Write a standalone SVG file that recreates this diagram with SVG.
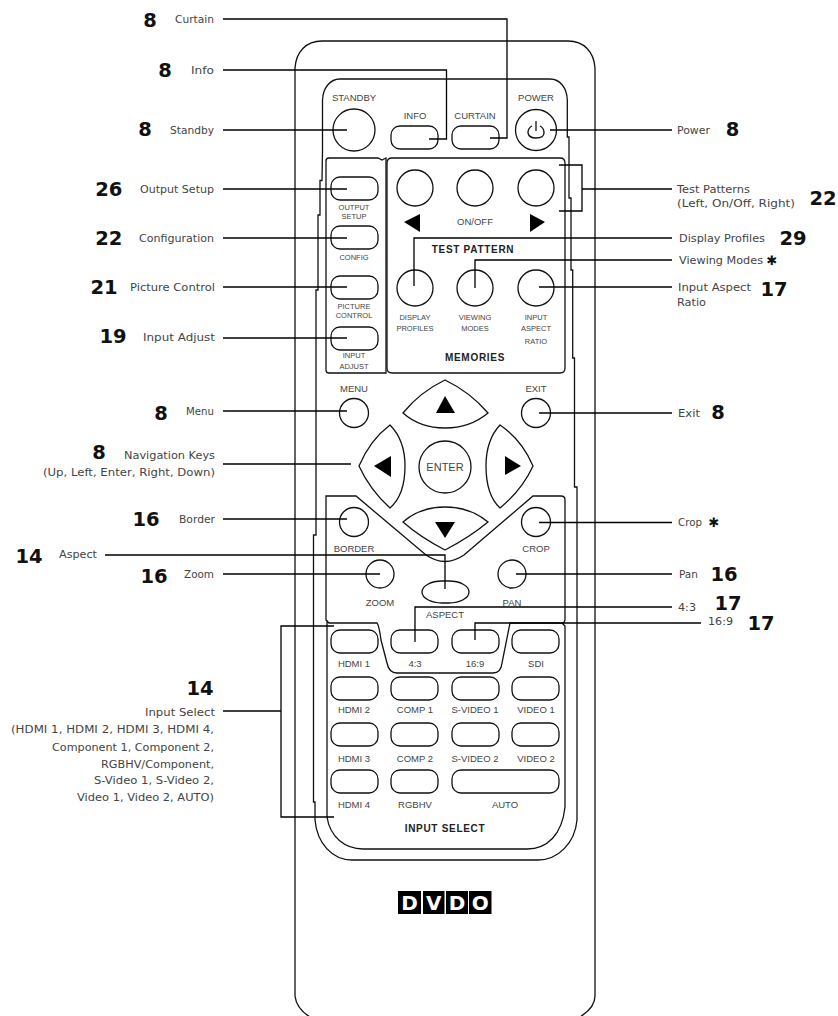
<svg xmlns="http://www.w3.org/2000/svg" width="838" height="1016" viewBox="0 0 838 1016">
<style>
.o{fill:none;stroke:#111;stroke-width:1.3}
.c{fill:none;stroke:#000;stroke-width:1.3}
.f{fill:#000;stroke:none}
.l{font-family:"DejaVu Sans",sans-serif;font-size:10.5px;fill:#444}
.e{text-anchor:end}
.n{font-family:"DejaVu Sans",sans-serif;font-weight:bold;font-size:19.5px;fill:#111;text-anchor:middle}
.k{font-family:"Liberation Sans",sans-serif;font-size:9.5px;fill:#444;text-anchor:middle}
.s{font-family:"Liberation Sans",sans-serif;font-size:7.5px;fill:#444;text-anchor:middle}
.b{font-family:"Liberation Sans",sans-serif;font-size:10px;font-weight:bold;fill:#222;text-anchor:middle;letter-spacing:.7px}
.d{font-family:"DejaVu Sans",sans-serif;font-weight:bold;font-size:20px;fill:#fff;text-anchor:middle}
</style>
<defs>
<rect id="pill" width="47" height="23" rx="9" class="o"/>
</defs>
<g id="remote-body">
<path class="o" d="M295,68C296,52 306,41 322,41H568C584,41 594,52 595,68V996C595,1005 588,1012 580,1017M295,996C296,1005 302,1012 310,1017M295,68V996"/>
<path class="o" d="M340,79C330,79 323,88 322.500,100V150L322,180.500H320V215H318V290H316V535H313.500V802H315V820C317,843 332,860 352,860H538C558,860 575,843 577,820V487H574.500V358H572.700V270H571V198H569V137H567.300V100C567,88 560,79 550,79Z"/>
<path class="o" d="M327,817C330,837 345,849 363,849H527C547,849 562,835 565,807V626L563,624L565,620V500Q565,496 561,496H533L464,555Q445,568 426,555L356,496H326V620L329,623H377Q379,625 381,640L387,663Q389,673 397,673H493Q501,673 502,663L510,623H563M327,620V817"/>
<path class="o" d="M329,158H378L382,160L386,158V373H329Q326,373 326,370V161Q326,158 329,158Z"/>
<path class="o" d="M392,158H560Q565,158 565,163V368Q565,373 560,373H392Q387,373 387,368V163Q387,158 392,158Z"/>
</g>
<g id="btn-standby"><circle class="o" cx="354" cy="130" r="21"/><text class="k" x="354" y="101">STANDBY</text></g>
<g id="btn-info"><use href="#pill" x="391" y="126"/><text class="k" x="415" y="119">INFO</text></g>
<g id="btn-curtain"><use href="#pill" x="452" y="126"/><text class="k" x="475" y="119">CURTAIN</text></g>
<g id="btn-power"><circle class="o" cx="536" cy="130" r="20.500"/><path class="o" d="M532,126Q528,128 528,133Q529,138 536,138Q544,138 544,133Q544,128 540,126M536,121V131"/><text class="k" x="536" y="101">POWER</text></g>
<g id="btn-output-setup"><use href="#pill" x="331" y="177"/><text class="s" x="354" y="210">OUTPUT</text><text class="s" x="354" y="219">SETUP</text></g>
<g id="btn-config"><use href="#pill" x="331" y="226"/><text class="s" x="354" y="260">CONFIG</text></g>
<g id="btn-picture-control"><use href="#pill" x="331" y="276"/><text class="s" x="354" y="309">PICTURE</text><text class="s" x="354" y="318">CONTROL</text></g>
<g id="btn-input-adjust"><use href="#pill" x="331" y="327"/><text class="s" x="354" y="358">INPUT</text><text class="s" x="354" y="369">ADJUST</text></g>
<g id="btn-test-left"><circle class="o" cx="415" cy="188" r="18"/><path class="f" d="M404,222L420,214V232Z"/></g>
<g id="btn-test-onoff"><circle class="o" cx="475" cy="188" r="18"/><text class="k" x="475" y="225">ON/OFF</text></g>
<g id="btn-test-right"><circle class="o" cx="536" cy="188" r="18"/><path class="f" d="M530,214L545,222L530,232Z"/></g>
<text class="b" x="473" y="253">TEST PATTERN</text>
<g id="btn-display-profiles"><circle class="o" cx="415" cy="288" r="18"/><text class="s" x="415" y="320">DISPLAY</text><text class="s" x="415" y="331">PROFILES</text></g>
<g id="btn-viewing-modes"><circle class="o" cx="475" cy="288" r="18"/><text class="s" x="475" y="320">VIEWING</text><text class="s" x="475" y="331">MODES</text></g>
<g id="btn-input-aspect"><circle class="o" cx="536" cy="288" r="18"/><text class="s" x="536" y="320">INPUT</text><text class="s" x="536" y="331">ASPECT</text><text class="s" x="536" y="344">RATIO</text></g>
<text class="b" x="475" y="361">MEMORIES</text>
<g id="btn-menu"><circle class="o" cx="354" cy="413" r="14.500"/><text class="k" x="354" y="392">MENU</text></g>
<g id="btn-exit"><circle class="o" cx="536" cy="413" r="14.500"/><text class="k" x="536" y="392">EXIT</text></g>
<g id="btn-up"><path class="o" d="M403,413Q420,392 445,380Q470,392 488,413Q470,428 445,428Q420,428 403,413Z"/><path class="f" d="M436,413H455L445,396Z"/></g>
<g id="btn-left"><path class="o" d="M390,425Q405,440 405,466Q405,495 390,508Q370,490 359,466Q370,440 390,425Z"/><path class="f" d="M374,466L391,456V477Z"/></g>
<g id="btn-right"><path class="o" d="M500,425Q486,440 486,466Q486,495 500,508Q522,490 533,466Q522,440 500,425Z"/><path class="f" d="M505,456L521,466L505,475Z"/></g>
<g id="btn-enter"><circle class="o" cx="445" cy="467" r="26"/><text class="k" x="445" y="471" style="font-size:11px">ENTER</text></g>
<g id="btn-down"><path class="o" d="M403,522Q420,507 445,507Q470,507 488,522Q470,537 445,550Q420,537 403,522Z"/><path class="f" d="M435,522H455L445,538Z"/></g>
<g id="btn-border"><circle class="o" cx="354" cy="522" r="14.500"/><text class="k" x="354" y="552">BORDER</text></g>
<g id="btn-crop"><circle class="o" cx="536" cy="522" r="14.500"/><text class="k" x="536" y="552">CROP</text></g>
<g id="btn-zoom"><circle class="o" cx="380" cy="574" r="14"/><text class="k" x="380" y="606">ZOOM</text></g>
<g id="btn-pan"><circle class="o" cx="512" cy="574" r="14"/><text class="k" x="512" y="606">PAN</text></g>
<g id="btn-aspect"><rect class="o" x="422" y="581" width="47" height="22" rx="20" ry="11"/><text class="k" x="445" y="618">ASPECT</text></g>
<g id="input-hdmi1"><use href="#pill" x="331" y="630"/><text class="k" x="354" y="667">HDMI 1</text></g>
<g id="input-43"><use href="#pill" x="391" y="630"/><text class="k" x="415" y="667">4:3</text></g>
<g id="input-169"><use href="#pill" x="452" y="630"/><text class="k" x="475" y="667">16:9</text></g>
<g id="input-sdi"><use href="#pill" x="512" y="630"/><text class="k" x="536" y="667">SDI</text></g>
<g id="input-hdmi2"><use href="#pill" x="331" y="677"/><text class="k" x="354" y="713">HDMI 2</text></g>
<g id="input-comp1"><use href="#pill" x="391" y="677"/><text class="k" x="415" y="713">COMP 1</text></g>
<g id="input-svideo1"><use href="#pill" x="452" y="677"/><text class="k" x="475" y="713">S-VIDEO 1</text></g>
<g id="input-video1"><use href="#pill" x="512" y="677"/><text class="k" x="536" y="713">VIDEO 1</text></g>
<g id="input-hdmi3"><use href="#pill" x="331" y="723"/><text class="k" x="354" y="762">HDMI 3</text></g>
<g id="input-comp2"><use href="#pill" x="391" y="723"/><text class="k" x="415" y="762">COMP 2</text></g>
<g id="input-svideo2"><use href="#pill" x="452" y="723"/><text class="k" x="475" y="762">S-VIDEO 2</text></g>
<g id="input-video2"><use href="#pill" x="512" y="723"/><text class="k" x="536" y="762">VIDEO 2</text></g>
<g id="input-hdmi4"><use href="#pill" x="331" y="770"/><text class="k" x="354" y="808">HDMI 4</text></g>
<g id="input-rgbhv"><use href="#pill" x="391" y="770"/><text class="k" x="415" y="808">RGBHV</text></g>
<g id="input-auto"><rect class="o" x="452" y="770" width="107" height="23" rx="9"/><text class="k" x="505" y="808">AUTO</text></g>
<text class="b" x="445" y="832">INPUT SELECT</text>
<g id="logo">
<rect class="f" x="398" y="891" width="23" height="23"/><rect class="f" x="423" y="891" width="21.500" height="23"/><rect class="f" x="446" y="891" width="22" height="23"/><rect class="f" x="469" y="891" width="22.500" height="23"/>
<text class="d" x="409.500" y="910">D</text><text class="d" x="433.700" y="910">V</text><text class="d" x="457" y="910">D</text><text class="d" x="480.200" y="910">O</text>
</g>
<g id="connectors">
<path class="c" d="M223,19H507V138H490"/>
<path class="c" d="M223,70H446.500V139H429"/>
<path class="c" d="M223,130H347"/>
<path class="c" d="M223,189H347"/>
<path class="c" d="M223,238H347"/>
<path class="c" d="M223,287H347"/>
<path class="c" d="M223,338H347"/>
<path class="c" d="M223,411H347"/>
<path class="c" d="M223,464H351"/>
<path class="c" d="M223,519H347"/>
<path class="c" d="M105,555H445V589"/>
<path class="c" d="M223,574H380"/>
<path class="c" d="M334,626H281V817H334M223,711H281"/>
<path class="c" d="M550,130H672"/>
<path class="c" d="M559,165H582V211H559M582,189H672"/>
<path class="c" d="M672,238H414V286"/>
<path class="c" d="M672,260H475V288"/>
<path class="c" d="M672,287H539"/>
<path class="c" d="M539,413H672"/>
<path class="c" d="M539,522.500H672"/>
<path class="c" d="M516,574H672"/>
<path class="c" d="M672,607H415V642"/>
<path class="c" d="M701,623H475V640"/>
</g>
<g id="labels-left" lengthAdjust="spacingAndGlyphs">
<text class="l e" x="214" y="23" textLength="39" lengthAdjust="spacingAndGlyphs">Curtain</text><text class="n" x="150" y="27">8</text>
<text class="l e" x="214" y="74" textLength="23" lengthAdjust="spacingAndGlyphs">Info</text><text class="n" x="165" y="76.500">8</text>
<text class="l e" x="214" y="134" textLength="44" lengthAdjust="spacingAndGlyphs">Standby</text><text class="n" x="145" y="135.500">8</text>
<text class="l e" x="214" y="193" textLength="74" lengthAdjust="spacingAndGlyphs">Output Setup</text><text class="n" x="108.700" y="195.500">26</text>
<text class="l e" x="214" y="242" textLength="75" lengthAdjust="spacingAndGlyphs">Configuration</text><text class="n" x="108.700" y="245">22</text>
<text class="l e" x="215" y="291" textLength="85" lengthAdjust="spacingAndGlyphs">Picture Control</text><text class="n" x="104" y="293.500">21</text>
<text class="l e" x="215" y="341" textLength="72" lengthAdjust="spacingAndGlyphs">Input Adjust</text><text class="n" x="113" y="343">19</text>
<text class="l e" x="214" y="415" textLength="28" lengthAdjust="spacingAndGlyphs">Menu</text><text class="n" x="161" y="419.500">8</text>
<text class="l e" x="215" y="459" textLength="91" lengthAdjust="spacingAndGlyphs">Navigation Keys</text><text class="l e" x="215" y="476" textLength="172" lengthAdjust="spacingAndGlyphs">(Up, Left, Enter, Right, Down)</text><text class="n" x="99" y="458.500">8</text>
<text class="l e" x="215" y="523" textLength="36" lengthAdjust="spacingAndGlyphs">Border</text><text class="n" x="146" y="525.500">16</text>
<text class="l e" x="97" y="558" textLength="38" lengthAdjust="spacingAndGlyphs">Aspect</text><text class="n" x="29" y="562.500">14</text>
<text class="l e" x="214" y="578" textLength="30" lengthAdjust="spacingAndGlyphs">Zoom</text><text class="n" x="154" y="582.500">16</text>
<text class="n" x="200" y="694.500">14</text>
<text class="l e" x="215" y="716" textLength="70" lengthAdjust="spacingAndGlyphs">Input Select</text>
<text class="l e" x="214" y="733" textLength="203" lengthAdjust="spacingAndGlyphs">(HDMI 1, HDMI 2, HDMI 3, HDMI 4,</text>
<text class="l e" x="214" y="751" textLength="162" lengthAdjust="spacingAndGlyphs">Component 1, Component 2,</text>
<text class="l e" x="214" y="768" textLength="113" lengthAdjust="spacingAndGlyphs">RGBHV/Component,</text>
<text class="l e" x="214" y="784" textLength="120" lengthAdjust="spacingAndGlyphs">S-Video 1, S-Video 2,</text>
<text class="l e" x="214" y="801" textLength="137" lengthAdjust="spacingAndGlyphs">Video 1, Video 2, AUTO)</text>
</g>
<g id="labels-right">
<text class="l" x="677" y="134" textLength="33" lengthAdjust="spacingAndGlyphs">Power</text><text class="n" x="732.500" y="135.500">8</text>
<text class="l" x="677" y="193" textLength="73" lengthAdjust="spacingAndGlyphs">Test Patterns</text><text class="l" x="677" y="207" textLength="118" lengthAdjust="spacingAndGlyphs">(Left, On/Off, Right)</text><text class="n" x="823" y="204.500">22</text>
<text class="l" x="679" y="242" textLength="86" lengthAdjust="spacingAndGlyphs">Display Profiles</text><text class="n" x="793" y="244.500">29</text>
<text class="l" x="679" y="264" textLength="84" lengthAdjust="spacingAndGlyphs">Viewing Modes</text><text class="n" x="772" y="265" style="font-size:13px">✱</text>
<text class="l" x="678" y="291" textLength="73" lengthAdjust="spacingAndGlyphs">Input Aspect</text><text class="l" x="677" y="306" textLength="29" lengthAdjust="spacingAndGlyphs">Ratio</text><text class="n" x="774" y="295.500">17</text>
<text class="l" x="678" y="417" textLength="22" lengthAdjust="spacingAndGlyphs">Exit</text><text class="n" x="718" y="418.500">8</text>
<text class="l" x="678" y="526" textLength="24" lengthAdjust="spacingAndGlyphs">Crop</text><text class="n" x="714" y="527" style="font-size:13px">✱</text>
<text class="l" x="679" y="578" textLength="19" lengthAdjust="spacingAndGlyphs">Pan</text><text class="n" x="724" y="580.500">16</text>
<text class="l" x="678" y="611" textLength="18" lengthAdjust="spacingAndGlyphs">4:3</text><text class="n" x="728" y="610">17</text>
<text class="l" x="708" y="625" textLength="25" lengthAdjust="spacingAndGlyphs">16:9</text><text class="n" x="761" y="630">17</text>
</g>
</svg>
